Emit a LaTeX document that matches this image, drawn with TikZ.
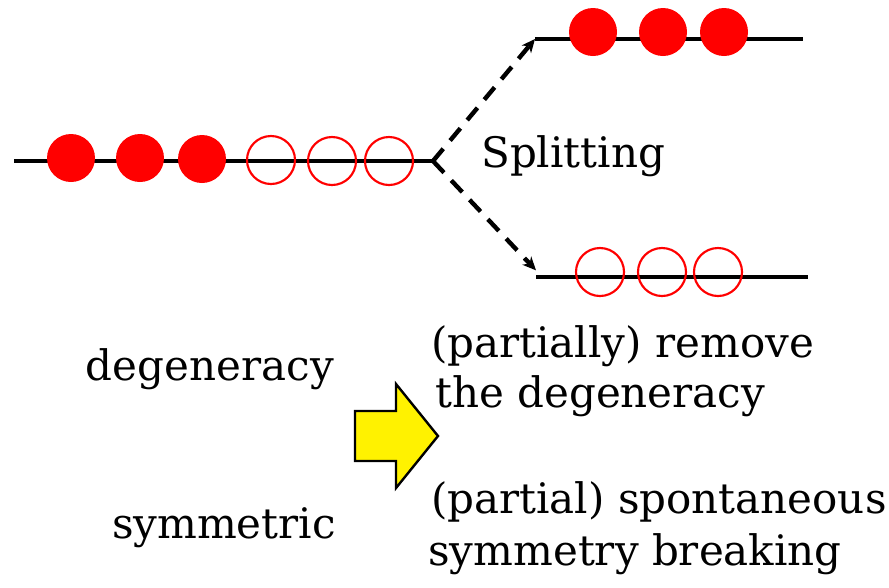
\documentclass[tikz,border=0pt]{standalone}
\usepackage{fontspec}
\setmainfont{DejaVu Serif}
\usetikzlibrary{arrows.meta}

\begin{document}
\begin{tikzpicture} [x=0.75pt, y=-0.75pt,
	lvl/.style={line width=3.3pt},
	occ/.style={circle, fill=red, inner sep=0pt, minimum size=36pt},
	vac/.style={circle, draw=red, line width=1.6pt, inner sep=0pt, minimum size=36pt},
	lab/.style={inner sep=0pt, font=\fontsize{31.5}{32}\selectfont}]
\useasboundingbox (0,0) rectangle (889,587);

\path (14,161) coordinate (l0)
	  (433,161) coordinate (s)
	  (535,39) coordinate (u0)
	  (803,39) coordinate (u1)
	  (536,277) coordinate (d0)
	  (808,277) coordinate (d1);

\draw[lvl] (l0) -- (s);
\draw[lvl] (u0) -- (u1);
\draw[lvl] (d0) -- (d1);

\path (71,158) node[occ] (f1) {}
	  (140,158) node[occ] (f2) {}
	  (202,159) node[occ] (f3) {}
	  (271,160) node[vac] (e1) {}
	  (332,161) node[vac] (e2) {}
	  (389,161) node[vac] (e3) {}
	  (593,32) node[occ] (uf1) {}
	  (663,32) node[occ] (uf2) {}
	  (724,32) node[occ] (uf3) {}
	  (600,272) node[vac] (de1) {}
	  (662,272) node[vac] (de2) {}
	  (718,272) node[vac] (de3) {};

\draw[lvl, dashed, dash pattern=on 12pt off 8pt, -{Stealth[length=10pt, width=9pt, inset=3pt]}] (s) to (u0);
\draw[lvl, dashed, dash pattern=on 12pt off 8pt, -{Stealth[length=10pt, width=9pt, inset=3pt]}] (s) to ([yshift=5]d0);

\path (481,167) node[lab, anchor=base west] (split) {Splitting}
	  (334,380) node[lab, anchor=base east] (deg) {degeneracy}
	  (336,538) node[lab, anchor=base east] (sym) {symmetric}
	  (431,357) node[lab, anchor=base west] (rm1) {(partially) remove}
	  (435,407) node[lab, anchor=base west] (rm2) {the degeneracy}
	  (431,513) node[lab, anchor=base west] (br1) {(partial) spontaneous}
	  (428,565) node[lab, anchor=base west] (br2) {symmetry breaking};

\draw[fill=yellow, line width=1.8pt, line join=miter] (355,411) -- (396,411) -- (396,384) -- (438,436) -- (396,488) -- (396,461) -- (355,461) -- cycle;

\end{tikzpicture}
\end{document}
